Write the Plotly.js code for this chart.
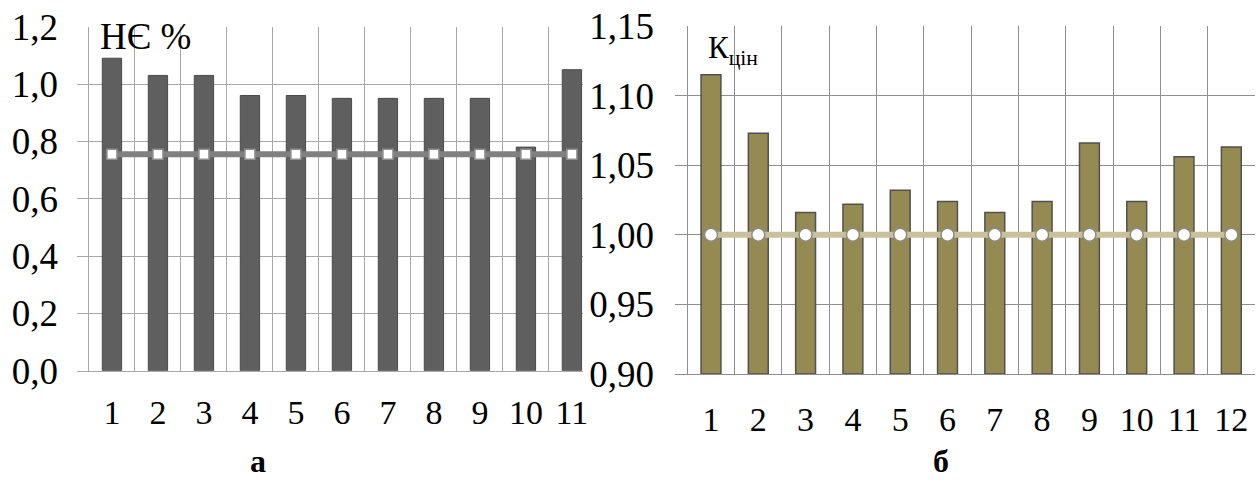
<!DOCTYPE html>
<html>
<head>
<meta charset="utf-8">
<script src="https://cdn.plot.ly/plotly-3.0.1.min.js"></script>
<style>html,body{margin:0;padding:0;background:#fff;}#chart{width:1258px;height:481px;}</style>
</head>
<body>
<div id="chart"></div>
<script>
// Chart (а): НЄ %
const categoriesA = ['1','2','3','4','5','6','7','8','9','10','11'];
const valuesA = [1.09, 1.03, 1.03, 0.96, 0.96, 0.95, 0.95, 0.95, 0.95, 0.78, 1.05];
const normA = [0.755, 0.755, 0.755, 0.755, 0.755, 0.755, 0.755, 0.755, 0.755, 0.755, 0.755];

// Chart (б): Кцін
const categoriesB = ['1','2','3','4','5','6','7','8','9','10','11','12'];
const valuesB = [1.115, 1.073, 1.016, 1.022, 1.032, 1.024, 1.016, 1.024, 1.066, 1.024, 1.056, 1.063];
const normB = [1.00, 1.00, 1.00, 1.00, 1.00, 1.00, 1.00, 1.00, 1.00, 1.00, 1.00, 1.00];

const FONT = '"Liberation Serif", "Times New Roman", Times, serif';

const traces = [
  {
    type: 'bar', x: categoriesA, y: valuesA, xaxis: 'x', yaxis: 'y',
    width: 0.42,
    marker: {color: '#5f5f5f', line: {color: '#4a4a4a', width: 1}},
    hoverinfo: 'skip'
  },
  {
    type: 'scatter', mode: 'lines+markers', x: categoriesA, y: normA, xaxis: 'x', yaxis: 'y',
    line: {color: '#808080', width: 6},
    marker: {symbol: 'square', size: 10, color: '#ffffff', line: {color: '#909090', width: 1.5}},
    cliponaxis: false,
    hoverinfo: 'skip'
  },
  {
    type: 'bar', x: categoriesB, y: valuesB.map(v => v - 0.9), base: 0.9, xaxis: 'x2', yaxis: 'y2',
    width: 0.42,
    marker: {color: '#958a52', line: {color: '#505050', width: 1.5}},
    hoverinfo: 'skip'
  },
  {
    type: 'scatter', mode: 'lines+markers', x: categoriesB, y: normB, xaxis: 'x2', yaxis: 'y2',
    line: {color: '#c9c19c', width: 6},
    marker: {symbol: 'circle', size: 13, color: '#ffffff', line: {color: '#8a8a8a', width: 1.5}},
    cliponaxis: false,
    hoverinfo: 'skip'
  }
];

const layout = {
  width: 1258, height: 481,
  margin: {l: 0, r: 0, t: 0, b: 0},
  paper_bgcolor: '#ffffff', plot_bgcolor: '#ffffff',
  showlegend: false,
  separators: ', ',
  font: {family: FONT, size: 36, color: '#000000'},
  xaxis: {
    domain: [0.0612, 0.4634], anchor: 'y', type: 'category',
    range: [-0.76, 10.24], tickson: 'boundaries',
    showgrid: true, gridcolor: '#a8a8a8', gridwidth: 1,
    ticks: '', showline: true, linecolor: '#a8a8a8', linewidth: 1,
    tickfont: {family: FONT, size: 34}, ticklabelstandoff: 11, fixedrange: true
  },
  yaxis: {
    domain: [0.2293, 0.9445], anchor: 'x',
    range: [0, 1.2], dtick: 0.2, tick0: 0, tickformat: '.1f',
    showgrid: true, gridcolor: '#a8a8a8', gridwidth: 1, zeroline: false,
    showline: false, ticks: '', tickfont: {family: FONT, size: 37},
    ticklabelstandoff: 18, fixedrange: true
  },
  xaxis2: {
    domain: [0.5366, 0.9976], anchor: 'y2', type: 'category',
    range: [-0.76, 11.5], tickson: 'boundaries',
    showgrid: true, gridcolor: '#8e8e8e', gridwidth: 1,
    ticks: '', showline: true, linecolor: '#8e8e8e', linewidth: 1,
    tickfont: {family: FONT, size: 34}, ticklabelstandoff: 15, fixedrange: true
  },
  yaxis2: {
    domain: [0.2225, 0.9459], anchor: 'x2',
    range: [0.9, 1.15], dtick: 0.05, tick0: 0.9, tickformat: '.2f',
    showgrid: true, gridcolor: '#8e8e8e', gridwidth: 1, zeroline: false,
    showline: false, ticks: '', tickfont: {family: FONT, size: 37},
    ticklabelstandoff: 20, fixedrange: true
  },
  annotations: [
    {xref: 'paper', yref: 'paper', x: 98/1258, y: 1 - 36/481, xanchor: 'left', yanchor: 'middle',
     text: 'НЄ %', showarrow: false, font: {family: FONT, size: 37, color: '#000'}},
    {xref: 'paper', yref: 'paper', x: 706/1258, y: 1 - 50/481, xanchor: 'left', yanchor: 'middle',
     text: 'К<sub>цін</sub>', showarrow: false, font: {family: FONT, size: 31, color: '#000'}},
    {xref: 'paper', yref: 'paper', x: 258/1258, y: 0, xanchor: 'center', yanchor: 'bottom',
     text: '<b>а</b>', showarrow: false, font: {family: FONT, size: 32, color: '#000'}},
    {xref: 'paper', yref: 'paper', x: 941/1258, y: 0, xanchor: 'center', yanchor: 'bottom',
     text: '<b>б</b>', showarrow: false, font: {family: FONT, size: 32, color: '#000'}}
  ]
};

Plotly.newPlot('chart', traces, layout, {staticPlot: true, displayModeBar: false});
</script>
</body>
</html>
